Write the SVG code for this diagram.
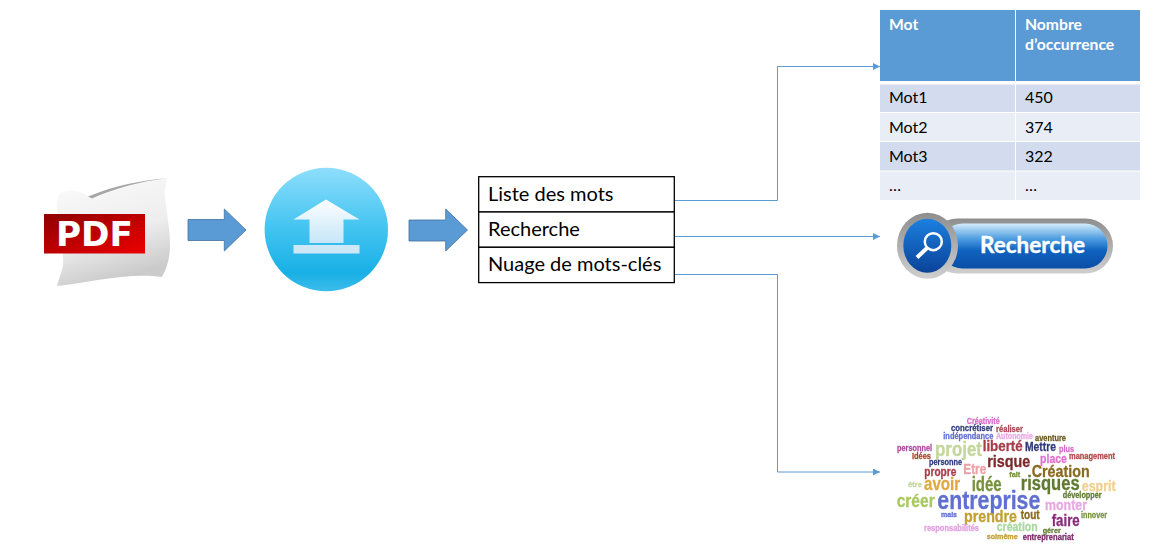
<svg xmlns="http://www.w3.org/2000/svg" width="1151" height="553" viewBox="0 0 1151 553">
<style>
.t{font-family:Lato,"Liberation Sans",sans-serif}
.list{font-size:20px;fill:#000}
.row{font-size:16px;fill:#000}
.hd{font-size:15.700px;font-weight:700;fill:#fff}
.cell{stroke:#000;stroke-width:1.3;fill:#fff}
.big{fill:#5b9bd5;stroke:#41719c;stroke-width:.8}
.con{fill:none;stroke:#5b9bd5;stroke-width:1}
.w text{font-family:"Liberation Sans",Arial,sans-serif;font-weight:700;fill:currentColor;stroke:currentColor;stroke-width:.3}
</style>
<defs>
<marker id="ah" markerUnits="userSpaceOnUse" markerWidth="8" markerHeight="8" refX="7" refY="3.500" orient="auto"><path d="M0 0L7 3.500L0 7Z" fill="#5b9bd5"/></marker>
<linearGradient id="page" x1="0" y1="0" x2="0.3" y2="1"><stop offset="0" stop-color="#fbfbfb"/><stop offset="0.6" stop-color="#eeeeee"/><stop offset="1" stop-color="#cbcbcb"/></linearGradient>
<linearGradient id="red" x1="0" y1="0" x2="1" y2="1"><stop offset="0" stop-color="#8f0000"/><stop offset="1" stop-color="#ec0000"/></linearGradient>
<linearGradient id="ball" x1="0" y1="0" x2="0" y2="1"><stop offset="0" stop-color="#8edefc"/><stop offset="0.45" stop-color="#48c6f1"/><stop offset="0.85" stop-color="#18b0e6"/><stop offset="1" stop-color="#3cbcea"/></linearGradient>
<linearGradient id="up" x1="0" y1="0" x2="0" y2="1"><stop offset="0" stop-color="#fdfeff"/><stop offset="1" stop-color="#c6e6f8"/></linearGradient>
<linearGradient id="rim" x1="0" y1="0" x2="0" y2="1"><stop offset="0" stop-color="#8e8e8e"/><stop offset="1" stop-color="#cfcfcf"/></linearGradient>
<linearGradient id="btn" x1="0" y1="0" x2="0" y2="1"><stop offset="0" stop-color="#d5ecfb"/><stop offset="0.35" stop-color="#4a9be0"/><stop offset="0.6" stop-color="#0f62bf"/><stop offset="1" stop-color="#0a4ea6"/></linearGradient>
<linearGradient id="knob" x1="0" y1="0" x2="0" y2="1"><stop offset="0" stop-color="#1c80e0"/><stop offset="1" stop-color="#0a4298"/></linearGradient>
<filter id="soft" x="-5%" y="-5%" width="110%" height="110%"><feGaussianBlur stdDeviation="0.3"/></filter>
</defs>

<g id="connectors">
<path class="con" marker-end="url(#ah)" d="M674.500 200.500H777.500V66.500H880"/>
<path class="con" marker-end="url(#ah)" d="M674.500 236.500H880"/>
<path class="con" marker-end="url(#ah)" d="M674.500 274.500H777.500V472H880"/>
<path class="big" d="M188 219.500H224.300V209L246 230L224.300 251V240.500H188Z"/>
<path class="big" d="M409 220H445.700V209L467.500 230L445.700 251V241H409Z"/>
</g>

<g id="pdf">
<path fill="url(#page)" d="M57 286C60 275 64 268 63 258C62 240 57 222 57 204C57 196 60 193 66 191C75 189 85 193 92 199C115 189 140 182 167 178C166 186 164 190 165 197C167 215 170 230 170 245C170 258 167 268 162 277C130 272 90 282 57 286Z"/>
<path fill="#a6a6a6" d="M88 196.500L92 198.500C115 188.500 140 181.500 166.500 178.300C140 180.500 115 186 92 195Z"/>
<rect x="44" y="214" width="101" height="39.500" fill="url(#red)"/>
<text x="56" y="246" textLength="77" lengthAdjust="spacingAndGlyphs" font-family="DejaVu Sans,Verdana,sans-serif" font-weight="700" font-size="34" fill="#fff">PDF</text>
</g>

<g id="upload">
<circle cx="326.300" cy="229.500" r="61.700" fill="url(#ball)"/>
<path fill="url(#up)" d="M326 199.500L359.500 219.500H343.500V243H309.500V219.500H293.500Z"/>
<rect x="293.500" y="245" width="66" height="8.500" fill="#cfe8f8"/>
</g>

<g id="menu">
<rect class="cell" x="478.700" y="176.700" width="195.600" height="35.300"/>
<rect class="cell" x="478.700" y="212" width="195.600" height="35.300"/>
<rect class="cell" x="478.700" y="247.300" width="195.600" height="35.300"/>
<text class="t list" x="488" y="201">Liste des mots</text>
<text class="t list" x="488" y="236">Recherche</text>
<text class="t list" x="488" y="271">Nuage de mots-clés</text>
</g>

<g id="table">
<rect x="880" y="10" width="135" height="71" fill="#5b9bd5"/>
<rect x="1016" y="10" width="124" height="71" fill="#5b9bd5"/>
<rect x="880" y="84.500" width="135" height="27.500" fill="#d2dcee"/>
<rect x="1016" y="84.500" width="124" height="27.500" fill="#d2dcee"/>
<rect x="880" y="113" width="135" height="28" fill="#e9edf6"/>
<rect x="1016" y="113" width="124" height="28" fill="#e9edf6"/>
<rect x="880" y="142" width="135" height="28.500" fill="#d2dcee"/>
<rect x="1016" y="142" width="124" height="28.500" fill="#d2dcee"/>
<rect x="880" y="171.500" width="135" height="28.500" fill="#e9edf6"/>
<rect x="1016" y="171.500" width="124" height="28.500" fill="#e9edf6"/>
<text class="t hd" x="889" y="30">Mot</text>
<text class="t hd" x="1025" y="30">Nombre</text>
<text class="t hd" x="1025" y="50">d’occurrence</text>
<text class="t row" x="889" y="103">Mot1</text><text class="t row" x="1025" y="103">450</text>
<text class="t row" x="889" y="133">Mot2</text><text class="t row" x="1025" y="133">374</text>
<text class="t row" x="889" y="162">Mot3</text><text class="t row" x="1025" y="162">322</text>
<text class="t row" x="889" y="191">…</text><text class="t row" x="1025" y="191">…</text>
</g>

<g id="search">
<rect x="930" y="218.500" width="183" height="55" rx="27.500" fill="url(#rim)"/>
<rect x="940" y="223.500" width="167.500" height="45" rx="22.500" fill="url(#btn)"/>
<ellipse cx="927.500" cy="245.700" rx="30.500" ry="33" fill="url(#rim)"/>
<ellipse cx="927.300" cy="245.700" rx="24" ry="27" fill="url(#knob)"/>
<circle cx="933.300" cy="241.700" r="8.500" fill="none" stroke="#fff" stroke-width="2.500"/>
<path d="M927 248L917 257.500" stroke="#fff" stroke-width="4" fill="none"/>
<text x="980" y="253" textLength="105" lengthAdjust="spacingAndGlyphs" font-family="Lato,Liberation Sans,sans-serif" font-weight="700" font-size="22" fill="#fff" stroke="#fff" stroke-width=".4">Recherche</text>
</g>

<g id="cloud" class="w" filter="url(#soft)">
<text x="966.700" y="423.500" textLength="33" lengthAdjust="spacingAndGlyphs" font-size="9" color="#d86cc8">Créativité</text>
<text x="951" y="431" textLength="42" lengthAdjust="spacingAndGlyphs" font-size="9" color="#2f3a7a">concrétiser</text>
<text x="996" y="431.700" textLength="27" lengthAdjust="spacingAndGlyphs" font-size="9" color="#a84a55">réaliser</text>
<text x="943.300" y="439.300" textLength="50" lengthAdjust="spacingAndGlyphs" font-size="9" color="#6070d0">indépendance</text>
<text x="996" y="439" textLength="37" lengthAdjust="spacingAndGlyphs" font-size="9" color="#e8a8e0">Autonomie</text>
<text x="1035" y="441" textLength="31" lengthAdjust="spacingAndGlyphs" font-size="9" color="#6b5a20">aventure</text>
<text x="897" y="451" textLength="35" lengthAdjust="spacingAndGlyphs" font-size="9" color="#b04aa0">personnel</text>
<text x="935" y="456" textLength="47" lengthAdjust="spacingAndGlyphs" font-size="21" color="#c3d69b">projet</text>
<text x="982.700" y="450.700" textLength="40" lengthAdjust="spacingAndGlyphs" font-size="15" color="#a83a4a">liberté</text>
<text x="1025" y="450.700" textLength="31" lengthAdjust="spacingAndGlyphs" font-size="12" color="#2f3a7a">Mettre</text>
<text x="1059" y="451.700" textLength="15" lengthAdjust="spacingAndGlyphs" font-size="9" color="#d86cc8">plus</text>
<text x="912" y="459" textLength="19" lengthAdjust="spacingAndGlyphs" font-size="9" color="#a84a30">Idées</text>
<text x="929" y="465.300" textLength="33" lengthAdjust="spacingAndGlyphs" font-size="9" color="#2f3a7a">personne</text>
<text x="987.300" y="466.700" textLength="43" lengthAdjust="spacingAndGlyphs" font-size="17" color="#7a2a2a">risque</text>
<text x="1040" y="462.700" textLength="27" lengthAdjust="spacingAndGlyphs" font-size="13" color="#e070d0">place</text>
<text x="1069" y="459.300" textLength="46" lengthAdjust="spacingAndGlyphs" font-size="9" color="#b04a4a">management</text>
<text x="924.300" y="475.700" textLength="32" lengthAdjust="spacingAndGlyphs" font-size="12" color="#a83a4a">propre</text>
<text x="963.300" y="474" textLength="23" lengthAdjust="spacingAndGlyphs" font-size="15" color="#eba0a8">Etre</text>
<text x="1009.300" y="476.700" textLength="11" lengthAdjust="spacingAndGlyphs" font-size="8" color="#76923c">fait</text>
<text x="1031.700" y="476.700" textLength="58" lengthAdjust="spacingAndGlyphs" font-size="17" color="#8a6a20">Création</text>
<text x="924" y="490" textLength="36" lengthAdjust="spacingAndGlyphs" font-size="19" color="#e0a840">avoir</text>
<text x="971.700" y="490.700" textLength="30" lengthAdjust="spacingAndGlyphs" font-size="20" color="#76923c">idée</text>
<text x="1020.700" y="490" textLength="59" lengthAdjust="spacingAndGlyphs" font-size="20" color="#5f7a30">risques</text>
<text x="1081.700" y="490.700" textLength="34" lengthAdjust="spacingAndGlyphs" font-size="15" color="#f0d090">esprit</text>
<text x="908" y="487" textLength="14" lengthAdjust="spacingAndGlyphs" font-size="8" color="#c3d69b">être</text>
<text x="1062.700" y="498.300" textLength="39" lengthAdjust="spacingAndGlyphs" font-size="9" color="#5f7a30">développer</text>
<text x="896.700" y="506.700" textLength="38" lengthAdjust="spacingAndGlyphs" font-size="19" color="#a8c860">créer</text>
<text x="937.300" y="509.300" textLength="103" lengthAdjust="spacingAndGlyphs" font-size="26" color="#6070d0">entreprise</text>
<text x="1045" y="510" textLength="42" lengthAdjust="spacingAndGlyphs" font-size="15" color="#e8a8e0">monter</text>
<text x="941" y="517.300" textLength="16" lengthAdjust="spacingAndGlyphs" font-size="8" color="#6070d0">mais</text>
<text x="964" y="521.700" textLength="53" lengthAdjust="spacingAndGlyphs" font-size="17" color="#c0a030">prendre</text>
<text x="1020.700" y="519" textLength="19" lengthAdjust="spacingAndGlyphs" font-size="12" color="#8a6a20">tout</text>
<text x="1051.700" y="526" textLength="28" lengthAdjust="spacingAndGlyphs" font-size="16" color="#8a2a7a">faire</text>
<text x="1081" y="518.300" textLength="26" lengthAdjust="spacingAndGlyphs" font-size="9" color="#76923c">innover</text>
<text x="996.700" y="531" textLength="41" lengthAdjust="spacingAndGlyphs" font-size="13" color="#a8d8a0">création</text>
<text x="924" y="531.300" textLength="55" lengthAdjust="spacingAndGlyphs" font-size="9" color="#e0a0e0">responsabilités</text>
<text x="1042.700" y="532.700" textLength="18" lengthAdjust="spacingAndGlyphs" font-size="8" color="#5f7a30">gérer</text>
<text x="986.700" y="539.300" textLength="31" lengthAdjust="spacingAndGlyphs" font-size="8" color="#c0a030">soimême</text>
<text x="1022.700" y="540" textLength="51" lengthAdjust="spacingAndGlyphs" font-size="9" color="#7a2a6a">entreprenariat</text>
</g>
</svg>
